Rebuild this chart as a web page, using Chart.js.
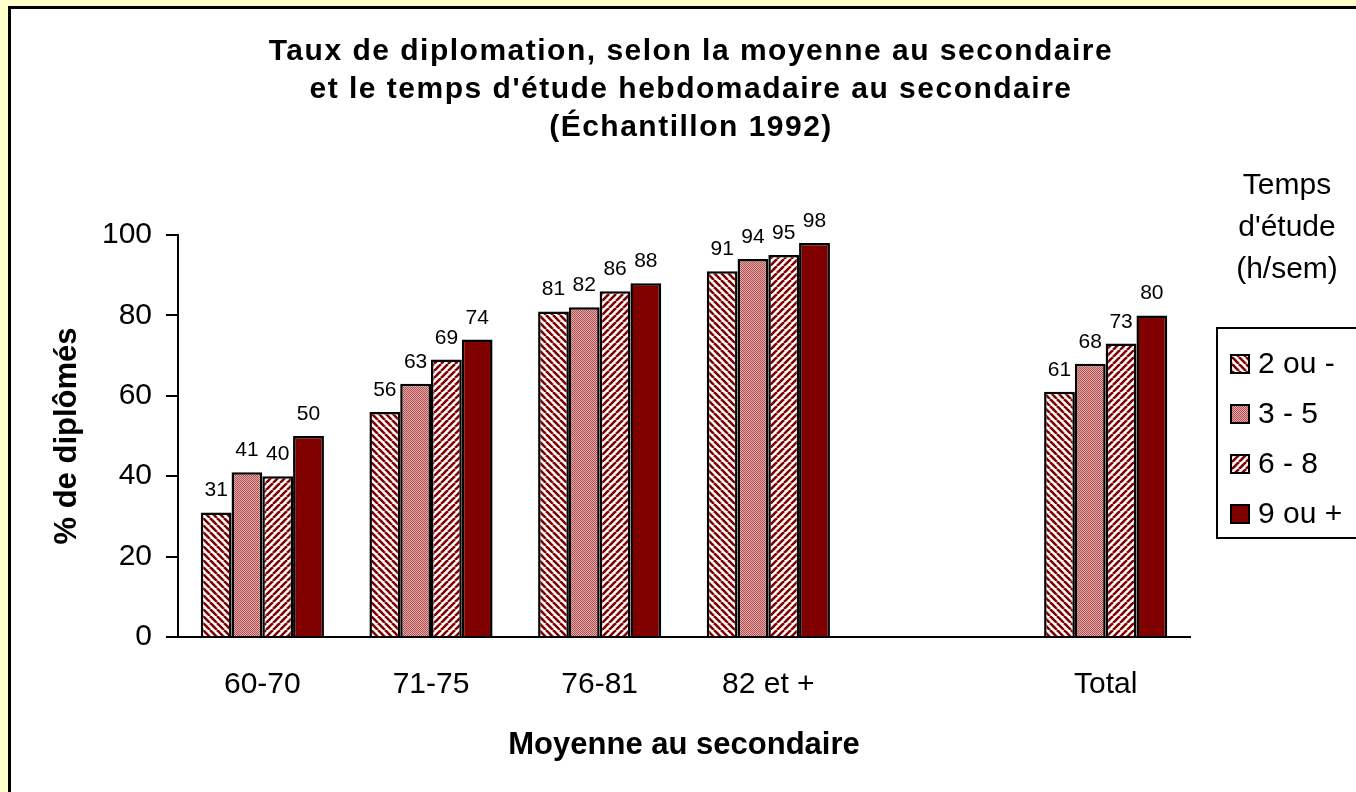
<!DOCTYPE html>
<html>
<head>
<meta charset="utf-8">
<script src="https://cdn.jsdelivr.net/npm/chart.js@4"></script>
<style>
  body { margin: 0; background: #ffffcc; overflow: hidden; }
  #frame { position: absolute; left: 8px; top: 6px; width: 1400px; height: 850px;
           border-left: 3px solid #000; border-top: 3px solid #000; background: #fff; }
  #c { position: absolute; left: 0; top: 0; }
</style>
</head>
<body>
<div id="frame"></div>
<canvas id="c" width="1356" height="792"></canvas>
<script>
// categories ('' = empty gap before Total)
var categories = ['60-70', '71-75', '76-81', '82 et +', '', 'Total'];
var seriesNames = ['2 ou -', '3 - 5', '6 - 8', '9 ou +'];
var deuxOuMoins = [31, 56, 81, 91, null, 61];
var troisCinq = [41, 63, 82, 94, null, 68];
var sixHuit = [40, 69, 86, 95, null, 73];
var neufOuPlus = [50, 74, 88, 98, null, 80];
var yTicks = [0, 20, 40, 60, 80, 100];

var titleLines = ['Taux de diplomation, selon la moyenne au secondaire',
                  "et le temps d'étude hebdomadaire au secondaire",
                  '(Échantillon 1992)'];
var legendTitle = ['Temps', "d'étude", '(h/sem)'];

var FONT = '"Liberation Sans", Arial, sans-serif';
var RED = '#800000';

function stripes(back) {
  var s = 7, cv = document.createElement('canvas');
  cv.width = s; cv.height = s;
  var g = cv.getContext('2d');
  g.fillStyle = '#fff'; g.fillRect(0, 0, s, s);
  g.strokeStyle = RED; g.lineWidth = 2.6;
  for (var k = -1; k <= 1; k++) {
    g.beginPath();
    if (back) { g.moveTo(k * s, 0); g.lineTo(k * s + s, s); }
    else { g.moveTo(k * s, s); g.lineTo(k * s + s, 0); }
    g.stroke();
  }
  return g.createPattern(cv, 'repeat');
}
function checker() {
  var cv = document.createElement('canvas');
  cv.width = 2; cv.height = 2;
  var g = cv.getContext('2d');
  g.fillStyle = '#e2aaaa'; g.fillRect(0, 0, 2, 2);
  g.fillStyle = '#b05050'; g.fillRect(0, 0, 1, 1); g.fillRect(1, 1, 1, 1);
  return g.createPattern(cv, 'repeat');
}

var fills = [stripes(true), checker(), stripes(false), RED];
var values = [deuxOuMoins, troisCinq, sixHuit, neufOuPlus];

var datasets = values.map(function(v, i) {
  return {
    label: seriesNames[i],
    data: v,
    backgroundColor: fills[i],
    borderColor: '#000',
    borderWidth: 2.5,
    barPercentage: 1,
    categoryPercentage: 0.73
  };
});

var decorations = {
  id: 'decorations',
  afterDatasetsDraw: function(chart) {
    var ctx = chart.ctx;
    ctx.save();
    ctx.fillStyle = '#000';
    ctx.font = '21px ' + FONT;
    ctx.textAlign = 'center';
    ctx.textBaseline = 'alphabetic';
    chart.data.datasets.forEach(function(ds, i) {
      chart.getDatasetMeta(i).data.forEach(function(el, j) {
        if (ds.data[j] == null) return;
        ctx.fillText(ds.data[j], el.x, el.y - 16);
      });
    });
    ctx.restore();
  },
  afterDraw: function(chart) {
    var ctx = chart.ctx;
    ctx.save();
    ctx.fillStyle = '#000';
    ctx.textAlign = 'center';
    ctx.textBaseline = 'middle';
    // title
    ctx.font = 'bold 30px ' + FONT;
    ctx.letterSpacing = '1.5px';
    titleLines.forEach(function(t, i) { ctx.fillText(t, 691, 52 + i * 38); });
    ctx.letterSpacing = '0px';
    // legend title
    ctx.font = '30px ' + FONT;
    legendTitle.forEach(function(t, i) { ctx.fillText(t, 1287, 186 + i * 42); });
    // legend box
    ctx.lineWidth = 2;
    ctx.strokeStyle = '#000';
    ctx.strokeRect(1217, 328, 200, 210);
    ctx.textAlign = 'left';
    chart.data.datasets.forEach(function(ds, i) {
      var y = 364 + i * 50;
      ctx.fillStyle = ds.backgroundColor;
      ctx.fillRect(1231, y - 9, 18, 18);
      ctx.lineWidth = 2;
      ctx.strokeRect(1231, y - 9, 18, 18);
      ctx.fillStyle = '#000';
      ctx.font = '30px ' + FONT;
      ctx.fillText(ds.label, 1258, y + 1);
    });
    ctx.restore();
  }
};

new Chart(document.getElementById('c'), {
  type: 'bar',
  data: { labels: categories, datasets: datasets },
  plugins: [decorations],
  options: {
    responsive: false,
    animation: false,
    devicePixelRatio: 1,
    layout: { padding: { left: 0, top: 235, right: 166, bottom: 15 } },
    plugins: { legend: { display: false }, title: { display: false }, tooltip: { enabled: false } },
    scales: {
      x: {
        grid: { display: false, drawTicks: false, tickLength: 0 },
        border: { display: true, color: '#000', width: 2 },
        ticks: { color: '#000', font: { family: FONT, size: 30 }, padding: 30, maxRotation: 0 },
        title: { display: true, text: 'Moyenne au secondaire', color: '#000',
                 font: { family: FONT, size: 31, weight: 'bold' }, padding: { bottom: 13 } },
        afterFit: function(s) { s.height = 140; }
      },
      y: {
        min: 0, max: 100,
        afterBuildTicks: function(s) { s.ticks = yTicks.map(function(v) { return { value: v }; }); },
        grid: { drawOnChartArea: false, drawTicks: true, tickLength: 12, color: '#000', lineWidth: 2 },
        border: { display: true, color: '#000', width: 2 },
        ticks: { color: '#000', font: { family: FONT, size: 30 }, padding: 14 },
        title: { display: true, text: '% de diplômés', color: '#000',
                 font: { family: FONT, size: 31, weight: 'bold' }, padding: { top: 49 } },
        afterFit: function(s) { s.width = 178; }
      }
    }
  }
});
</script>
</body>
</html>
